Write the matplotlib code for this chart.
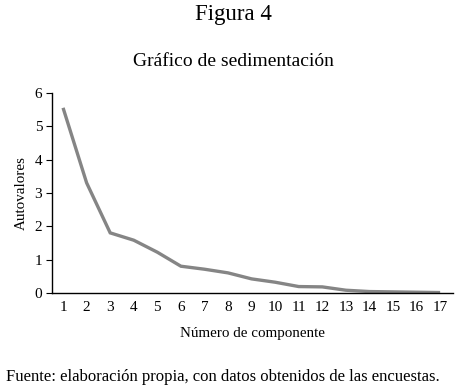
import matplotlib
matplotlib.use('Agg')
import matplotlib.pyplot as plt

# scree plot data
componentes = list(range(1, 18))
autovalores = [5.55, 3.30, 1.80, 1.58, 1.22, 0.80, 0.71, 0.60, 0.42, 0.32,
               0.19, 0.18, 0.08, 0.04, 0.03, 0.02, 0.01]
y_ticks = [0, 1, 2, 3, 4, 5, 6]

plt.rcParams['font.family'] = ['Liberation Serif', 'DejaVu Serif']

fig = plt.figure(figsize=(4.6, 3.9), dpi=100)
ax = fig.add_axes([0.113, 0.249, 0.872, 0.513])

ax.plot(componentes, autovalores, color='#858585', linewidth=2.4,
        solid_joinstyle='miter', solid_capstyle='butt')

# axes
ax.set_xlim(0.53, 17.55)
ax.set_ylim(0, 6)
ax.set_xticks(componentes)
ax.set_yticks(y_ticks)
ax.tick_params(axis='x', length=0, pad=6, labelsize=11)
ax.tick_params(axis='y', length=4, width=0.8, pad=3, labelsize=11)
for s in ['top', 'right']:
    ax.spines[s].set_visible(False)
for s in ['left', 'bottom']:
    ax.spines[s].set_linewidth(1.0)
    ax.spines[s].set_color('black')

ax.set_ylabel('Autovalores', fontsize=10.8, labelpad=5)
ax.set_xlabel('Número de componente', fontsize=10.8, labelpad=9)

# titles and source
fig.text(0.507, 0.963, 'Figura 4', ha='center', va='center', fontsize=16.5)
fig.text(0.507, 0.842, 'Gráfico de sedimentación', ha='center', va='center',
         fontsize=14)
fig.text(0.013, 0.033, 'Fuente: elaboración propia, con datos obtenidos de las encuestas.',
         ha='left', va='center', fontsize=12)

fig.savefig('out.png', dpi=100)
